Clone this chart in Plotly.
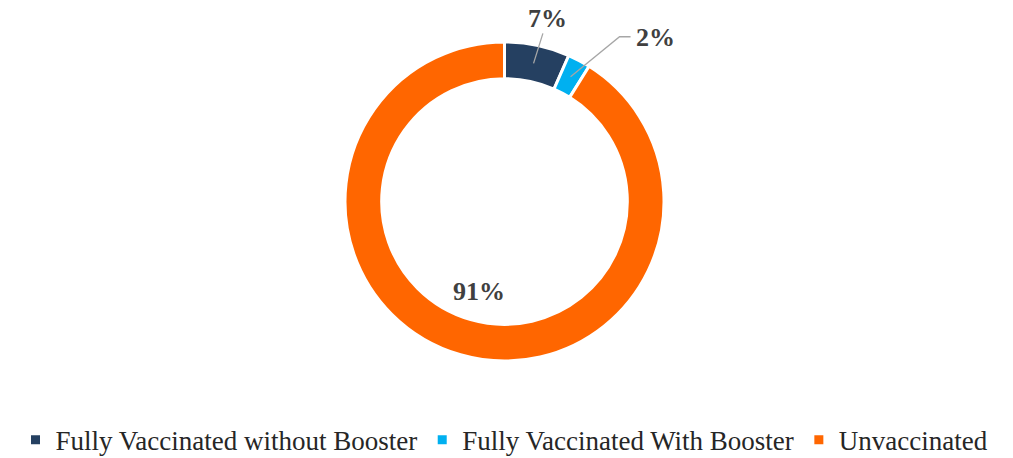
import math
import plotly.graph_objects as go

# ---- data ----
categories = ["Fully Vaccinated without Booster", "Fully Vaccinated With Booster", "Unvaccinated"]
values = [6.6, 2.3, 91.1]
colors = ["#254061", "#00B0F0", "#FF6600"]

# page body has an 8px margin, so the figure is sized to fit the window after it
W, H = 1005, 450
M_L, M_R, M_T, M_B = 0, 12, 34, 97
PW, PH = W - M_L - M_R, H - M_T - M_B
HOLE = 0.77
R_OUT = min(PW, PH) / 2.0
R_IN = R_OUT * HOLE
R_MID = (R_OUT + R_IN) / 2.0

fig = go.Figure(go.Pie(
    labels=categories, values=values, sort=False, direction="clockwise", rotation=0,
    hole=HOLE, textinfo="none", hoverinfo="label+percent",
    marker=dict(colors=colors, line=dict(color="white", width=3)),
))

# slice mid-angles (degrees clockwise from 12 o'clock), computed from the data
total = sum(values)
mids, cum = [], 0.0
for v in values:
    mids.append((cum + v / 2.0) / total * 360.0)
    cum += v


def paper(angle_deg, r_px):
    a = math.radians(angle_deg)
    x = 0.5 + r_px * math.sin(a) / PW
    y = 0.5 + r_px * math.cos(a) / PH
    return x, y


pct = [f"{round(v / total * 100)}%" for v in values]
lab_font = dict(family="Liberation Serif", size=26, color="#404040")
line_col = "#A6A6A6"

annotations = []
shapes = []

# label 1: straight leader line
hx, hy = paper(mids[0], R_MID)
annotations.append(dict(x=hx, y=hy, xref="paper", yref="paper", text=f"<b>{pct[0]}</b>",
                        showarrow=True, arrowhead=0, arrowwidth=1.3, arrowcolor=line_col,
                        ax=14, ay=-45, font=lab_font, standoff=0, borderpad=0))

# label 2: elbow leader line
hx2, hy2 = paper(mids[1], R_MID)
shapes.append(dict(type="path", xref="paper", yref="paper", xsizemode="pixel", ysizemode="pixel",
                   xanchor=hx2, yanchor=hy2, path="M0,0 L49,40 L60,40",
                   line=dict(color=line_col, width=1.3)))
annotations.append(dict(x=hx2, y=hy2, xref="paper", yref="paper", text=f"<b>{pct[1]}</b>",
                        showarrow=True, arrowwidth=0.1, arrowcolor="rgba(0,0,0,0)",
                        ax=85, ay=-39, font=lab_font))

# label 3: inside the hole on the slice's mid-angle
tx, ty = paper(mids[2], 94)
annotations.append(dict(x=tx, y=ty, xref="paper", yref="paper", text=f"<b>{pct[2]}</b>",
                        xanchor="center", yanchor="middle",
                        showarrow=False, font=lab_font))

fig.update_layout(
    width=W, height=H,
    margin=dict(l=M_L, r=M_R, t=M_T, b=M_B, autoexpand=False),
    paper_bgcolor="white", plot_bgcolor="white",
    showlegend=True,
    legend=dict(orientation="h", x=0.5, xanchor="center", y=0.094, yanchor="top",
                yref="container",
                font=dict(family="Liberation Serif", size=27, color="#262626"),
                itemwidth=30, tracegroupgap=0),
    annotations=annotations, shapes=shapes,
)

fig.write_html("out.html")
